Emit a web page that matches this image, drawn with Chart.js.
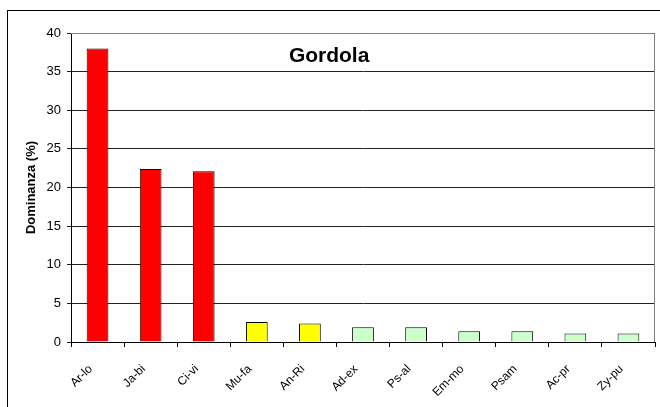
<!DOCTYPE html>
<html>
<head>
<meta charset="utf-8">
<script src="https://cdn.jsdelivr.net/npm/chart.js@4/dist/chart.umd.min.js"></script>
<style>
  html, body { margin: 0; padding: 0; background: #fff; }
  #wrap { position: relative; width: 660px; height: 407px; }
  #frame {
    position: absolute; left: 7px; top: 10px; right: -2px; bottom: -2px;
    border-left: 1.5px solid #000; border-top: 1.5px solid #000;
  }
  canvas { position: absolute; left: 0; top: 0; }
</style>
</head>
<body>
<div id="wrap">
  <div id="frame"></div>
  <canvas id="chart" width="660" height="407"></canvas>
</div>
<script>
  const specie = ["Ar-lo", "Ja-bi", "Ci-vi", "Mu-fa", "An-Ri", "Ad-ex", "Ps-al", "Em-mo", "Psam", "Ac-pr", "Zy-pu"];
  const dominanza = [38, 22.4, 22.1, 2.6, 2.4, 1.9, 1.9, 1.4, 1.4, 1.1, 1.1];
  const colori = ["#FF0000", "#FF0000", "#FF0000", "#FFFF00", "#FFFF00",
                  "#CCFFCC", "#CCFFCC", "#CCFFCC", "#CCFFCC", "#CCFFCC", "#CCFFCC"];
  const yTicks = [0, 5, 10, 15, 20, 25, 30, 35, 40];

  const FONT = "Arial, 'Liberation Sans', sans-serif";

  // title drawn inside the plot area, plus grey border round the plot
  const titoloPlugin = {
    id: "titolo",
    afterDraw(chart) {
      const ctx = chart.ctx;
      const a = chart.chartArea;
      ctx.save();
      ctx.strokeStyle = "#808080";
      ctx.lineWidth = 1;
      ctx.beginPath();
      ctx.moveTo(a.left, a.top + 0.5);
      ctx.lineTo(a.right - 0.5, a.top + 0.5);
      ctx.lineTo(a.right - 0.5, a.bottom);
      ctx.stroke();
      ctx.fillStyle = "#000";
      ctx.font = "bold 21px " + FONT;
      ctx.textAlign = "center";
      ctx.textBaseline = "middle";
      ctx.fillText("Gordola", a.left + (a.right - a.left) * 0.442, a.top + 23);
      ctx.restore();
    }
  };

  new Chart(document.getElementById("chart"), {
    type: "bar",
    data: {
      labels: specie,
      datasets: [{
        label: "Dominanza (%)",
        data: dominanza,
        backgroundColor: colori,
        borderColor: "#000",
        borderWidth: 1,
        barPercentage: 0.41,
        categoryPercentage: 1
      }]
    },
    options: {
      responsive: false,
      animation: false,
      layout: { padding: { left: 24, top: 33, right: 5, bottom: 0 } },
      plugins: {
        legend: { display: false },
        tooltip: { enabled: false }
      },
      scales: {
        x: {
          offset: true,
          grid: { display: true, drawOnChartArea: false, offset: true, tickLength: 5, color: "#000" },
          border: { color: "#000", width: 1 },
          ticks: {
            minRotation: 45, maxRotation: 45, autoSkip: false,
            color: "#000", padding: 15, labelOffset: -7,
            font: { family: FONT, size: 12 }
          },
          afterFit(scale) { scale.height = 65; }
        },
        y: {
          min: 0, max: 40,
          afterBuildTicks(scale) { scale.ticks = yTicks.map(v => ({ value: v })); },
          grid: { color: "#222", lineWidth: 1, tickLength: 4 },
          border: { color: "#000", width: 1 },
          ticks: {
            color: "#000", padding: 6,
            font: { family: FONT, size: 13 }
          },
          title: {
            display: true, text: "Dominanza (%)", color: "#000",
            font: { family: FONT, size: 13, weight: "bold" },
            padding: { top: 0, bottom: 4 }
          },
          afterFit(scale) { scale.width = 47; }
        }
      }
    },
    plugins: [titoloPlugin]
  });
</script>
</body>
</html>
